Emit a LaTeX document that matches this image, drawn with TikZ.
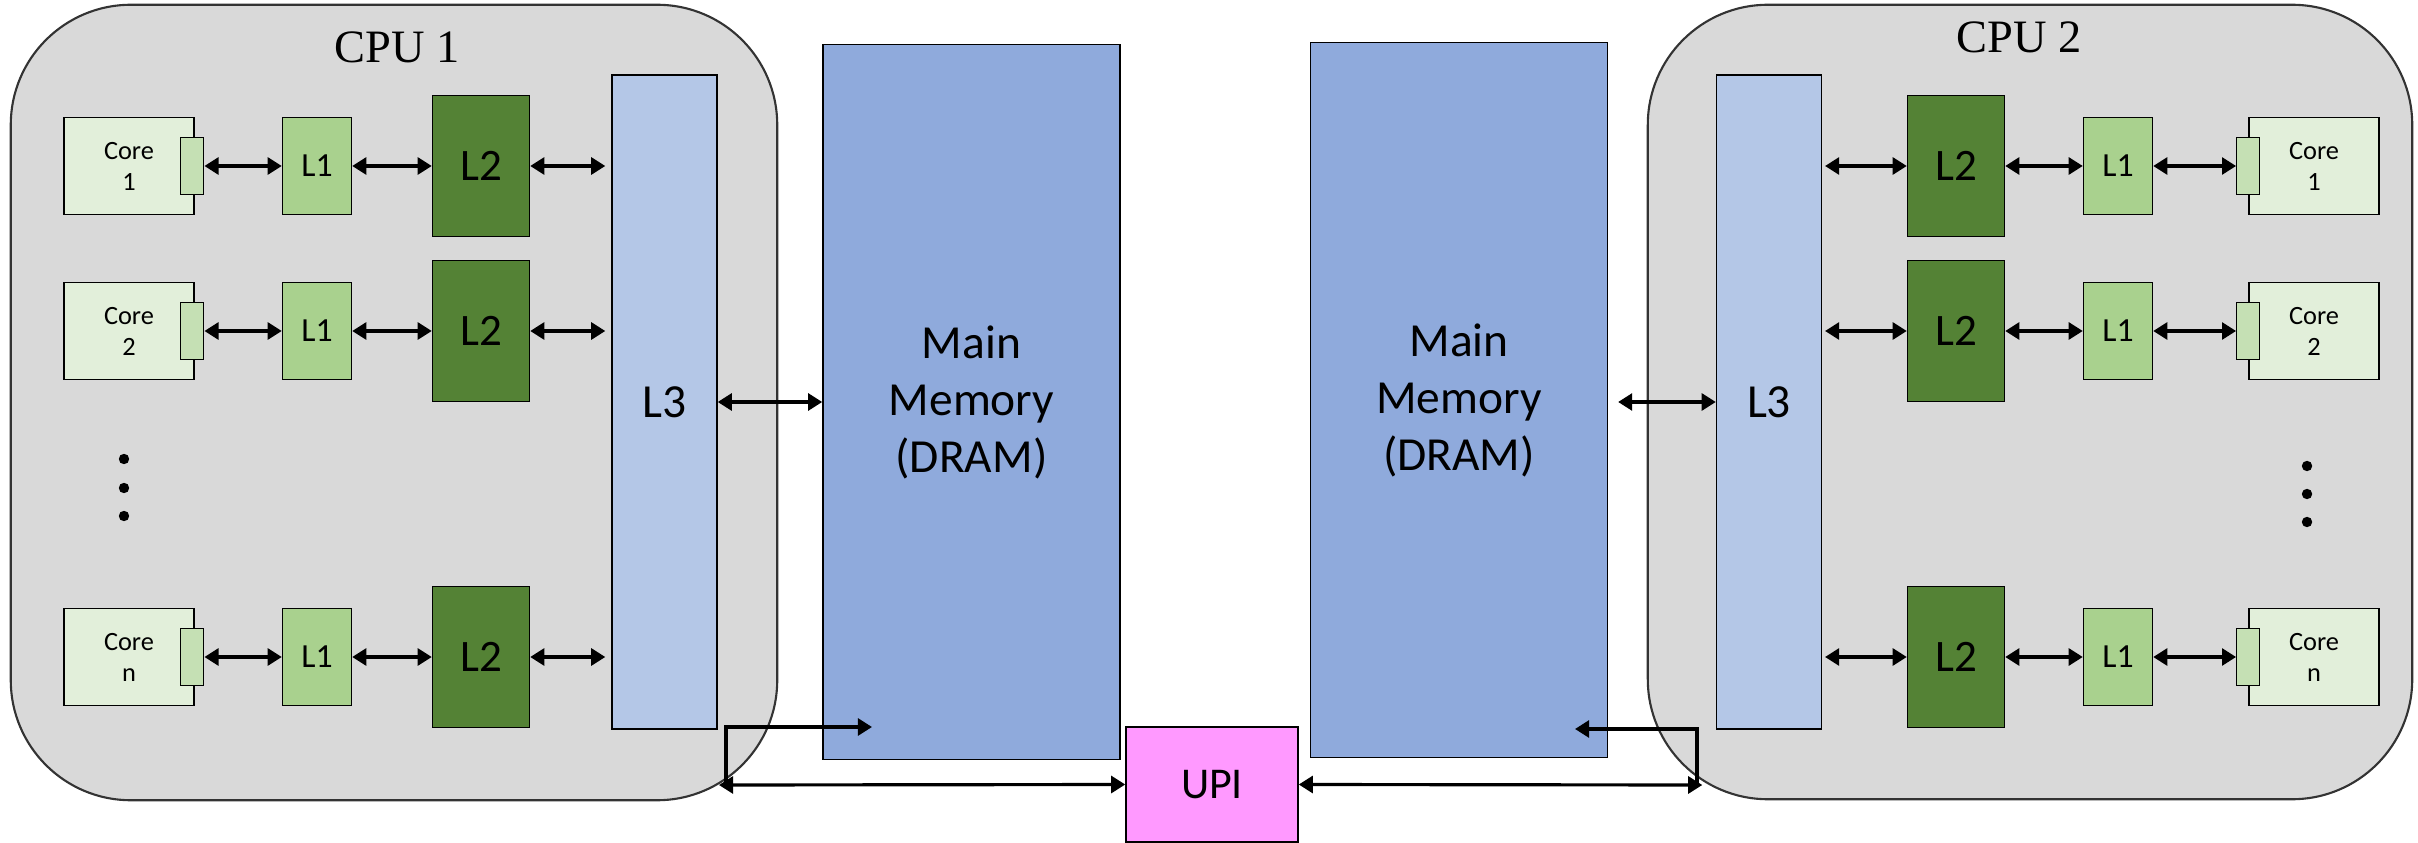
\documentclass[tikz,border=0pt]{standalone}
\usepackage{fontspec}
\setmainfont{Carlito}
\newfontfamily\cpufont{Liberation Serif}
\usepackage{tikz}
\usetikzlibrary{positioning}
\usetikzlibrary{arrows.meta,calc}
\definecolor{cpugray}{HTML}{D9D9D9}
\definecolor{corefill}{HTML}{E2EFDA}
\definecolor{portfill}{HTML}{C5E0B4}
\definecolor{lonefill}{HTML}{A9D18E}
\definecolor{ltwofill}{HTML}{548235}
\definecolor{lthreefill}{HTML}{B4C7E7}
\definecolor{memfill}{HTML}{8FAADC}
\definecolor{upifill}{HTML}{FF99FF}
\tikzstyle{cpubox}=[draw=black!80,fill=cpugray,rounded corners=1.2cm,line width=0.6pt,inner sep=0pt]
\tikzstyle{cpulabel}=[font=\cpufont\fontsize{13.2}{15}\selectfont]
\tikzstyle{corebox}=[draw,fill=corefill,minimum width=1.3cm,minimum height=0.97cm,inner sep=0pt,align=center,font=\fontsize{7.5}{8.8}\selectfont]
\tikzstyle{portbox}=[draw,fill=portfill,minimum width=0.23cm,minimum height=0.57cm,inner sep=0pt]
\tikzstyle{lonebox}=[draw,fill=lonefill,minimum width=0.69cm,minimum height=0.97cm,inner sep=0pt,font=\fontsize{9.6}{11}\selectfont]
\tikzstyle{ltwobox}=[draw,fill=ltwofill,minimum width=0.97cm,minimum height=1.41cm,inner sep=0pt,font=\fontsize{12.8}{15}\selectfont]
\tikzstyle{lthreebox}=[draw,fill=lthreefill,minimum width=1.05cm,minimum height=6.54cm,inner sep=0pt,font=\fontsize{13.5}{16}\selectfont]
\tikzstyle{membox}=[draw,fill=memfill,minimum width=2.97cm,minimum height=7.14cm,inner sep=0pt,align=center,font=\fontsize{13.5}{16.2}\selectfont]
\tikzstyle{upibox}=[draw,fill=upifill,minimum width=1.72cm,minimum height=1.15cm,inner sep=0pt,font=\fontsize{12.5}{15}\selectfont]
\tikzstyle{directededge}=[draw,line width=0.9pt,-{Triangle[length=4pt,width=4.8pt]}]
\tikzstyle{bidirectededge}=[draw,line width=0.9pt,{Triangle[length=4pt,width=4.8pt]}-{Triangle[length=4pt,width=4.8pt]}]

\begin{document}
\begin{tikzpicture}[x=0.01cm,y=-0.01cm]
    \useasboundingbox (0,0) rectangle (2418,843);
    % The two sockets
    \node[cpubox,minimum width=7.66cm,minimum height=7.95cm] (cpu1) at (394,402.5) {};
    \node[cpubox,minimum width=7.64cm,minimum height=7.94cm] (cpu2) at (2030,402) {};
    \node[cpulabel] (cpu1label) at (397,47) {CPU 1};
    \node[cpulabel] (cpu2label) at (2019,37) {CPU 2};

    % Cores and private caches, left socket
    \foreach \i/\y in {1/166, 2/331, n/657} {
        \node[corebox] (corea\i) at (129,\y) {Core\\\i};
        \node[portbox] (porta\i) at ([xshift=-0.025cm]corea\i.east) {};
        \node[lonebox] (lonea\i) at (317,\y) {L1};
        \node[ltwobox] (ltwoa\i) at (481,\y) {L2};
    }
    \node[lthreebox] (lthreea) at (664.5,402) {L3};

    % Cores and private caches, right socket
    \foreach \i/\y in {1/166, 2/331, n/657} {
        \node[corebox] (coreb\i) at (2314,\y) {Core\\\i};
        \node[portbox] (portb\i) at (coreb\i.west) {};
        \node[lonebox] (loneb\i) at (2118,\y) {L1};
        \node[ltwobox] (ltwob\i) at (1956,\y) {L2};
    }
    \node[lthreebox] (lthreeb) at (1769,402) {L3};

    % Dots for the missing cores
    \foreach \y in {459,488,516}
        \fill (124,\y) circle (0.052cm);
    \foreach \y in {466,494,522}
        \fill (2307,\y) circle (0.052cm);

    % Memory and interconnect
    \node[membox] (mema) at (971.5,402) {Main\\Memory\\(DRAM)};
    \node[membox] (memb) at (1459,400) {Main\\Memory\\(DRAM)};
    \node[upibox] (upi) at (1212,784.5) {UPI};

    % Links inside the sockets
    \foreach \i in {1,2,n} {
        \path[bidirectededge] (porta\i.east) -- (lonea\i.west);
        \path[bidirectededge] (lonea\i.east) -- (ltwoa\i.west);
        \path[bidirectededge,shorten >=1.7pt] (ltwoa\i.east) -- (ltwoa\i.east -| lthreea.west);
        \path[bidirectededge,shorten <=0.8pt] (lthreeb.east |- ltwob\i.west) -- (ltwob\i.west);
        \path[bidirectededge] (ltwob\i.east) -- (loneb\i.west);
        \path[bidirectededge] (loneb\i.east) -- (portb\i.west);
    }
    \path[bidirectededge] (lthreea.east) -- (lthreea.east -| mema.west);
    \path[bidirectededge,shorten <=2.8pt] (memb.east |- lthreeb.west) -- (lthreeb.west);

    % UPI links
    \coordinate (lbend) at (726,785);
    \coordinate (ltip) at (872,727);
    \coordinate (rbend) at (1697,785);
    \coordinate (rtip) at (1575,729);
    \path[directededge] (lbend) |- (ltip);
    \path[bidirectededge,shorten <=-2pt] (lbend) -- (upi.west);
    \path[directededge] (rbend) |- (rtip);
    \path[bidirectededge,shorten >=-1.5pt] (upi.east) -- (rbend);
\end{tikzpicture}
\end{document}
